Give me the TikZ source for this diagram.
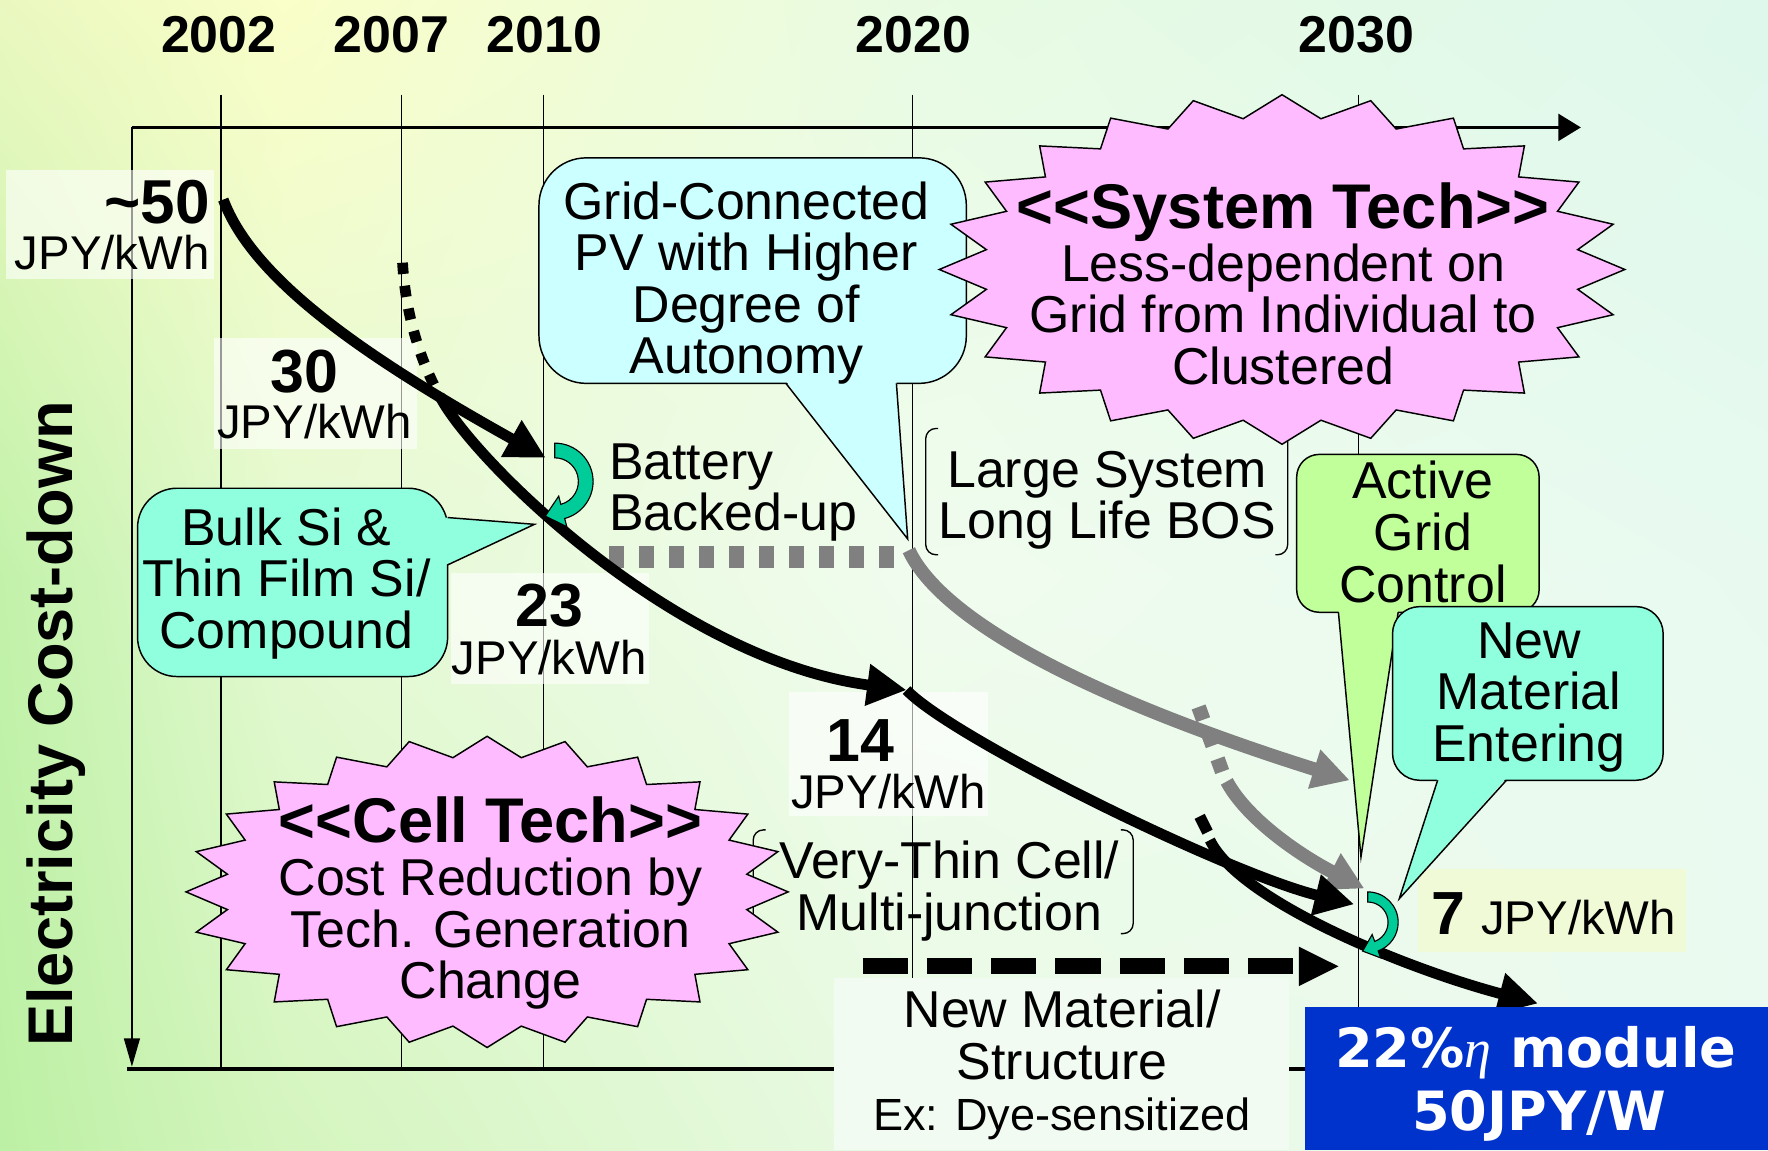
\documentclass[tikz,border=0pt]{standalone}
\usepackage{fontspec}
\setmainfont{Liberation Sans}
\newfontfamily\dvs{DejaVu Sans}
\newfontfamily\lserif{Liberation Serif}
\usetikzlibrary{arrows.meta,shadings}
\newcommand\fsz[2]{\fontsize{#1}{#2}\selectfont}
\definecolor{pinkstar}{RGB}{255,187,255}
\definecolor{cyanb}{RGB}{204,255,255}
\definecolor{aquab}{RGB}{143,255,221}
\definecolor{greenb}{RGB}{192,255,153}
\definecolor{tealc}{RGB}{0,204,153}
\definecolor{grayarr}{RGB}{128,128,128}
\definecolor{bluebox}{RGB}{0,51,204}
\definecolor{box7}{RGB}{240,250,215}
\definecolor{boxnm}{RGB}{242,251,242}
\definecolor{bgA}{RGB}{234,248,192}
\definecolor{bgB}{RGB}{250,254,200}
\definecolor{bgC}{RGB}{232,251,226}
\definecolor{bgD}{RGB}{222,248,236}
\definecolor{bgE}{RGB}{194,242,170}
\definecolor{bgF}{RGB}{228,249,210}
\definecolor{bgG}{RGB}{240,252,238}
\definecolor{bgH}{RGB}{232,250,240}
\definecolor{bgI}{RGB}{188,240,164}
\definecolor{bgJ}{RGB}{212,245,190}
\definecolor{bgK}{RGB}{232,250,226}
\definecolor{bgL}{RGB}{236,250,240}
\begin{document}
\begin{tikzpicture}[x=1pt,y=-1pt,
  txt/.style={inner sep=0pt, align=center, font=\fsz{46}{45.7}},
  numl/.style={inner sep=0pt, font=\fsz{54}{54}\bfseries},
  unitl/.style={inner sep=0pt, font=\fsz{42}{42}},
  yearl/.style={inner sep=0pt, font=\fsz{46}{46}\bfseries},
  labbox/.style={fill=white, fill opacity=0.6},
  bubble/.style={draw=black, line width=1.3pt},
  starsh/.style={draw=black, line width=1.3pt, fill=pinkstar, line join=miter},
  blk/.style={line width=9.5pt},
  gry/.style={line width=12pt, draw=grayarr},
  blktip/.style={-{Triangle[length=35pt,width=35pt]}},
  grytip/.style={-{Triangle[length=33pt,width=34pt]}},
  yline/.style={line width=1pt},
  bracket/.style={line width=1.2pt, rounded corners=9pt},
  tealarr/.style={fill=tealc, draw=black, line width=1pt}
]
\useasboundingbox (0,0) rectangle (1568,1020);
% background
\shade[upper left=bgA, upper right=bgB, lower left=bgE, lower right=bgF] (0,0) rectangle (251,511);
\shade[upper left=bgB, upper right=bgC, lower left=bgF, lower right=bgG] (250,0) rectangle (801,511);
\shade[upper left=bgC, upper right=bgD, lower left=bgG, lower right=bgH] (800,0) rectangle (1568,511);
\shade[upper left=bgE, upper right=bgF, lower left=bgI, lower right=bgJ] (0,510) rectangle (251,1020);
\shade[upper left=bgF, upper right=bgG, lower left=bgJ, lower right=bgK] (250,510) rectangle (801,1020);
\shade[upper left=bgG, upper right=bgH, lower left=bgK, lower right=bgL] (800,510) rectangle (1568,1020);

% year lines and axes
\foreach \xx in {196,356,482,809,1205} \draw[yline] (\xx,84) -- (\xx,948);
\coordinate (org) at (117,113);
\coordinate (xend) at (1402,113);
\coordinate (yend) at (117,946);
\draw[line width=2pt, -{Triangle[length=20pt,width=24pt]}] (org) -- (xend);
\draw[line width=1.5pt, -{Triangle[length=25pt,width=14pt]}] (org) -- (yend);
\coordinate (bl) at (113,948);
\coordinate (br) at (1160,948);
\draw[line width=3.5pt] (bl) -- (br);

% light label boxes
\fill[labbox] (5,151) rectangle (190,247);
\fill[labbox] (190,300) rectangle (370,398);
\fill[labbox] (400,508) rectangle (576,607);
\fill[labbox] (700,614) rectangle (876,724);
\fill[box7] (1258,771) rectangle (1495,844);
\fill[boxnm] (740,867) rectangle (1143,1020);

% brackets
\draw[bracket] (832,380) -- (821,380) -- (821,492) -- (832,492);
\draw[bracket] (1131,380) -- (1142,380) -- (1142,492) -- (1131,492);
\draw[bracket] (679,736) -- (668,736) -- (668,828) -- (679,828);
\draw[bracket] (994,736) -- (1005,736) -- (1005,828) -- (994,828);

% gray paths
\draw[grayarr, line width=19pt, dash pattern=on 13.3pt off 13.3pt] (540,494) -- (793,494);
\coordinate (g0) at (806,488);
\coordinate (g1) at (1197,692);
\draw[gry, grytip] (g0) .. controls (840,560) and (1000,630) .. (g1);
\draw[grayarr, line width=13pt, dash pattern=on 12pt off 12.5pt] (1063,627) -- (1086,690);
\coordinate (g2s) at (1088,693);
\coordinate (g2e) at (1210,788);
\draw[gry, grytip] (g2s) .. controls (1105,725) and (1150,757) .. (g2e);

% black paths
\coordinate (s50) at (198,177);
\coordinate (e30) at (484,406);
\draw[blk, blktip] (s50) .. controls (225,250) and (330,320) .. (e30);
\coordinate (s07) at (357,233);
\coordinate (k07) at (392,355);
\draw[line width=9.5pt, dash pattern=on 10pt off 10.5pt] (s07) .. controls (360,285) and (376,327) .. (k07);
\coordinate (e14) at (804,612);
\draw[blk, blktip] (k07) .. controls (425,413) and (600,585) .. (e14);
\coordinate (e7) at (1201,802);
\draw[blk, blktip] (e14) .. controls (845,655) and (1090,775) .. (e7);
\draw[line width=10pt] (1064,724) -- (1071,738);
\coordinate (s4) at (1073,745);
\coordinate (e4) at (1364,890);
\draw[blk, blktip] (s4) .. controls (1100,800) and (1250,860) .. (e4);
\coordinate (ds) at (765,857);
\coordinate (de) at (1188,857);
\draw[line width=14pt, dash pattern=on 40pt off 17pt, -{Triangle[length=36pt,width=32pt]}] (ds) -- (de);

% bubbles
\draw[bubble, fill=cyanb, rounded corners=42pt] (478,140) rectangle (857,340);
\fill[cyanb] (697,338) -- (805,478) -- (795,338) -- cycle;
\draw[bubble] (697,340) -- (805,478) -- (795,340);

\draw[bubble, fill=aquab, rounded corners=35pt] (122,433) rectangle (397,600);
\fill[aquab] (395,459) -- (474,465) -- (395,501) -- cycle;
\draw[bubble] (397,459) -- (474,465) -- (397,501);

\draw[bubble, fill=greenb, rounded corners=20pt] (1150,403) rectangle (1365,543);
\fill[greenb] (1187,541) -- (1207,760) -- (1240,541) -- cycle;
\draw[bubble] (1187,543) -- (1207,760) -- (1240,543);

\draw[bubble, fill=aquab, rounded corners=24pt] (1235,538) rectangle (1475,692);
\fill[aquab] (1275,690) -- (1241,797) -- (1336,690) -- cycle;
\draw[bubble] (1275,692) -- (1241,797) -- (1336,692);

% stars
\draw[starsh] plot[variable=\k, samples at={0,...,47}] ({1137+(1-0.13*mod(\k,2))*304*cos(\k*7.5)}, {239+(1-0.13*mod(\k,2))*155*sin(\k*7.5)}) -- cycle;
\draw[starsh] plot[variable=\k, samples at={0,...,47}] ({432+(1-0.13*mod(\k,2))*267*cos(\k*7.5)}, {791+(1-0.13*mod(\k,2))*138*sin(\k*7.5)}) -- cycle;

% teal curved arrows
\filldraw[tealarr] (492,393) arc[start angle=-90, end angle=75, radius=34] -- (502.7,467.1) -- (483.6,457.7) -- (495.5,440.0) -- (497.4,447.3) arc[start angle=75, end angle=-90, radius=21] -- cycle;
\filldraw[tealarr] (1213,791) arc[start angle=-90, end angle=70, radius=27] -- (1224.5,849.5) -- (1208.5,843.5) -- (1216.9,828.8) -- (1219.2,834.9) arc[start angle=70, end angle=-90, radius=18] -- cycle;

% blue box
\fill[bluebox] (1157,893) rectangle (1568,1020);

% texts
\node[yearl, anchor=base] (y2002) at (194,47) {2002};
\node[yearl, anchor=base] (y2007) at (347,47) {2007};
\node[yearl, anchor=base] (y2010) at (483,47) {2010};
\node[yearl, anchor=base] (y2020) at (810,47) {2020};
\node[yearl, anchor=base] (y2030) at (1203,47) {2030};

\node[numl, anchor=base east, font=\fsz{55}{55}\bfseries] (n50) at (186,198) {\textasciitilde50};
\node[unitl, anchor=base east] (u50) at (186,239) {JPY/kWh};
\node[numl, anchor=base] (n30) at (270,348) {30};
\node[unitl, anchor=base] (u30) at (279,389) {JPY/kWh};
\node[numl, anchor=base] (n23) at (487,556) {23};
\node[unitl, anchor=base] (u23) at (487,598) {JPY/kWh};
\node[numl, anchor=base] (n14) at (763,675) {14};
\node[unitl, anchor=base] (u14) at (788,717) {JPY/kWh};
\node[numl, anchor=base] (n7) at (1285,829) {7};
\node[unitl, anchor=base] (u7) at (1400,829) {JPY/kWh};

\node[txt, anchor=north] (tgrid) at (662,161) {Grid-Connected\\PV with Higher\\Degree of\\Autonomy};
\node[txt, anchor=north] (tbulk) at (254,450) {Bulk Si \&\\Thin Film Si/\\Compound};
\node[txt, anchor=north west, align=left] (tbat) at (540,393) {Battery\\Backed-up};
\node[txt, anchor=north] (tlarge) at (982,400) {Large System\\Long Life BOS};
\node[txt, anchor=north] (tagc) at (1262,409) {Active\\Grid\\Control};
\node[txt, anchor=north] (tnme) at (1356,552) {New\\Material\\Entering};
\node[txt, anchor=north] (tthin) at (842,746) {Very-Thin Cell/\\Multi-junction};
\node[txt, anchor=north] (tnms) at (942,878) {New Material/\\Structure\\{\fsz{40}{40}Ex: Dye-sensitized}};
\node[inner sep=0pt, anchor=base, font=\fsz{56}{56}\bfseries] (tsys) at (1138,203) {<\kern0pt<System Tech>\kern0pt>};
\node[txt, anchor=north] (tsysb) at (1138,216) {Less-dependent on\\Grid from Individual to\\Clustered};
\node[inner sep=0pt, anchor=base, font=\fsz{56}{56}\bfseries] (tcell) at (435,747) {<\kern0pt<Cell Tech>\kern0pt>};
\node[txt, anchor=north] (tcellb) at (435,761) {Cost Reduction by\\Tech. Generation\\Change};
\node[inner sep=0pt, rotate=90, font=\fsz{56}{56}\bfseries] (ylab) at (50,642) {Electricity Cost-down};
\node[inner sep=0pt, anchor=base, text=white, font=\dvs\fsz{48}{48}\bfseries] (t22) at (1362,947) {22\%{\lserif\mdseries\itshape η} module};
\node[inner sep=0pt, anchor=base, text=white, font=\dvs\fsz{48}{48}\bfseries] (t50w) at (1365,1003) {50JPY/W};
\end{tikzpicture}
\end{document}
